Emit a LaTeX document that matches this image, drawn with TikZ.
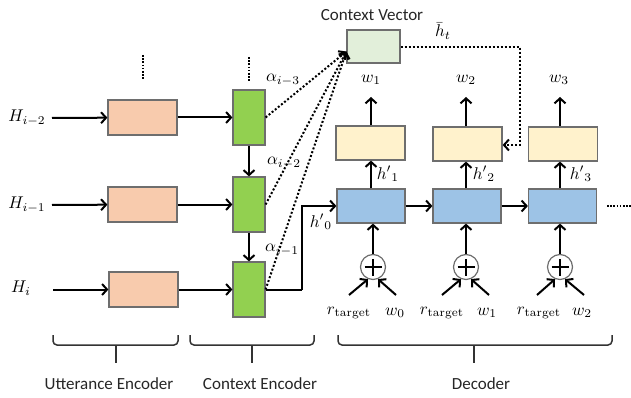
\documentclass[tikz,border=0pt]{standalone}
\usepackage{fontspec}
\newfontfamily\calibri{Carlito}
\usetikzlibrary{arrows.meta}
\definecolor{orfill}{HTML}{F8CBAD}
\definecolor{grfill}{HTML}{92D050}
\definecolor{yefill}{HTML}{FFF2CC}
\definecolor{blfill}{HTML}{9DC3E6}
\definecolor{cvfill}{HTML}{E2EFDA}
\definecolor{bordc}{HTML}{6E6E6E}
\tikzset{
  box/.style={draw=bordc, line width=1.2pt, inner sep=0pt, rectangle},
  orbox/.style={box, fill=orfill, minimum width=69pt, minimum height=35pt},
  grbox/.style={box, fill=grfill, minimum width=32pt, minimum height=55pt},
  yebox/.style={box, fill=yefill, minimum width=69pt, minimum height=34pt},
  blbox/.style={box, fill=blfill, minimum width=68pt, minimum height=34pt},
  cvbox/.style={box, fill=cvfill, minimum width=53pt, minimum height=33pt},
  arr/.style={line width=2pt, -{Straight Barb[length=5pt,width=11pt]}},
  plain/.style={line width=2pt},
  dots/.style={line width=2pt, dash pattern=on 2pt off 2pt},
  sdots/.style={line width=1.6pt, dash pattern=on 1.6pt off 1.6pt},
  darr/.style={dots, -{Straight Barb[length=5pt,width=11pt,line width=2pt]}},
  lbl/.style={inner sep=0pt, scale=1.7},
  tlbl/.style={inner sep=0pt, font=\calibri\fontsize{17}{20}\selectfont, text=black!85},
  opl/.style={circle, draw=bordc, line width=1.2pt, fill=white, minimum size=25pt, inner sep=0pt},
  brc/.style={line width=1.5pt, draw=black!80, rounded corners=4pt},
  brt/.style={line width=1.5pt, draw=black!80},
}
\begin{document}
\begin{tikzpicture}[x=1pt,y=-1pt]
\useasboundingbox (0,0) rectangle (631,398);
% input labels
\node[lbl] (h1) at (27,118) {$H_{i-2}$};
\node[lbl] (h2) at (27,205) {$H_{i-1}$};
\node[lbl] (h3) at (21,288) {$H_{i}$};
% utterance encoder boxes
\node[orbox] (o1) at (142.5,117.5) {};
\node[orbox] (o2) at (142.5,204.5) {};
\node[orbox] (o3) at (143.5,289.5) {};
% context encoder boxes
\node[grbox] (g1) at (249,117.5) {};
\node[grbox] (g2) at (249,204.5) {};
\node[grbox] (g3) at (249,289.5) {};
% context vector
\node[cvbox] (cv) at (373.5,46.5) {};
\node[tlbl] (cvl) at (372,15) {Context Vector};
\node[lbl] (hbar) at (443,31) {$\bar{h}_t$};
% decoder boxes
\node[yebox] (y1) at (370.5,143) {};
\node[yebox] (y2) at (467.5,144) {};
\node[yebox] (y3) at (563,144) {};
\node[blbox] (b1) at (371,206) {};
\node[blbox] (b2) at (467,206) {};
\node[blbox] (b3) at (562.5,206) {};
% outputs
\node[lbl] (w1) at (371,80) {$w_1$};
\node[lbl] (w2) at (466,80) {$w_2$};
\node[lbl] (w3) at (559,80) {$w_3$};
\coordinate (w1a) at (371,97);
\coordinate (w2a) at (466,97);
\coordinate (w3a) at (560,97);
% hidden labels
\node[lbl] (hp0) at (321,222) {${h'}_0$};
\node[lbl] (hp1) at (388,174) {${h'}_1$};
\node[lbl] (hp2) at (484,174) {${h'}_2$};
\node[lbl] (hp3) at (581,174) {${h'}_3$};
% alpha labels
\node[lbl] (a3) at (283,80) {$\alpha_{i-3}$};
\node[lbl] (a2) at (284,163) {$\alpha_{i-2}$};
\node[lbl] (a1) at (282,250) {$\alpha_{i-1}$};
% oplus nodes
\node[opl] (c1) at (373,267) {};
\node[opl] (c2) at (466,267) {};
\node[opl] (c3) at (560,267) {};
\foreach \c in {c1,c2,c3}{
  \draw[line width=1.2pt] ([xshift=-8.5pt]\c.center) -- ([xshift=8.5pt]\c.center);
  \draw[line width=1.2pt] ([yshift=-8.5pt]\c.center) -- ([yshift=8.5pt]\c.center);
}
% input labels to decoder
\node[lbl] (r1) at (349,313) {$r_{\mathrm{target}}$};
\node[lbl] (x0) at (395,313) {$w_0$};
\node[lbl] (r2) at (442,313) {$r_{\mathrm{target}}$};
\node[lbl] (x1) at (487,313) {$w_1$};
\node[lbl] (r3) at (539,313) {$r_{\mathrm{target}}$};
\node[lbl] (x2) at (582,313) {$w_2$};
\coordinate (r1a) at (349,295); \coordinate (x0a) at (396,295);
\coordinate (r2a) at (442,295); \coordinate (x1a) at (489,295);
\coordinate (r3a) at (537,295); \coordinate (x2a) at (584,295);
\draw[arr] (r1a) -- ([xshift=-5pt,yshift=1pt]c1.south);
\draw[arr] (x0a) -- ([xshift=5pt,yshift=1pt]c1.south);
\draw[arr] (r2a) -- ([xshift=-5pt,yshift=1pt]c2.south);
\draw[arr] (x1a) -- ([xshift=5pt,yshift=1pt]c2.south);
\draw[arr] (r3a) -- ([xshift=-5pt,yshift=1pt]c3.south);
\draw[arr] (x2a) -- ([xshift=5pt,yshift=1pt]c3.south);
% oplus to blue
\draw[arr] (c1.north) -- (c1.north |- b1.south);
\draw[arr] (c2.north) -- (c2.north |- b2.south);
\draw[arr] (c3.north) -- (c3.north |- b3.south);
% blue to yellow
\draw[arr] (b1.north -| w1a) -- (w1a |- y1.south);
\draw[arr] (b2.north -| w2a) -- (w2a |- y2.south);
\draw[arr] (b3.north -| w3a) -- (w3a |- y3.south);
% yellow to outputs
\draw[arr] (y1.north -| w1a) -- (w1a);
\draw[arr] (y2.north -| w2a) -- (w2a);
\draw[arr] (y3.north -| w3a) -- (w3a);
% blue chain
\draw[arr] (b1) -- (b2);
\draw[arr] (b2) -- (b3);
\coordinate (dA) at (607,206); \coordinate (dB) at (631,206);
\draw[sdots] (dA) -- (dB);
% encoder arrows
\coordinate (s1) at (52,118); \coordinate (s2) at (52,205); \coordinate (s3) at (53,289.5);
\draw[arr] (s1) -- (o1);
\draw[arr] (s2) -- (o2);
\draw[arr] (s3) -- (o3);
\draw[arr] (o1) -- (g1);
\draw[arr] (o2) -- (g2);
\draw[arr] (o3) -- (g3);
\draw[arr] (g1) -- (g2);
\draw[arr] (g2) -- (g3);
% to decoder
\coordinate (elb) at (302,289.5);
\draw[plain] (g3.east) -- (elb);
\draw[arr] (elb) |- (b1.west);
% vertical ellipses
\coordinate (e1a) at (143,55); \coordinate (e1b) at (143,79);
\coordinate (e2a) at (249,57); \coordinate (e2b) at (249,81);
\draw[sdots] (e1a) -- (e1b);
\draw[sdots] (e2a) -- (e2b);
% attention lines
\coordinate (cvin) at ([yshift=-5pt]cv.west);
\draw[darr] (g1.east) -- (cvin);
\draw[darr] (g2.east) -- (cvin);
\draw[darr] (g3.east) -- (cvin);
% context vector feedback
\coordinate (fb1) at (520,47);
\coordinate (fb2) at (520,145);
\draw[darr] (cv.east |- fb1) -- (fb1) -- (fb2) -- (y2.east |- fb2);
% braces
\draw[brc] (53,335) -- (53,345) -- (178,345) -- (178,335);
\draw[brt] (116,345) -- (116,363);
\draw[brc] (190,335) -- (190,345) -- (314,345) -- (314,335);
\draw[brt] (252,345) -- (252,363);
\draw[brc] (338,335) -- (338,345) -- (612,345) -- (612,335);
\draw[brt] (474,345) -- (474,363);
\node[tlbl] (ue) at (109,384) {Utterance Encoder};
\node[tlbl] (ce) at (260,384) {Context Encoder};
\node[tlbl] (de) at (481,384) {Decoder};
\end{tikzpicture}
\end{document}
